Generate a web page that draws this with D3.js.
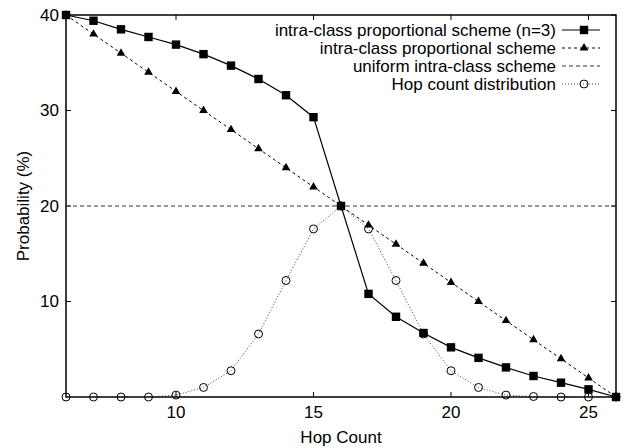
<!DOCTYPE html>
<html lang="en">
<head>
    <meta charset="UTF-8">
    <title>Hop count probability</title>
    <script src="https://d3js.org/d3.v7.min.js"></script>
    <style>
        body { margin: 0; background: #fff; }
        text { font-family: "Liberation Sans", Arial, sans-serif; fill: #000; }
        .tick-label { font-size: 17px; }
        .legend-text { font-size: 17px; }
    </style>
</head>
<body>
    <svg id="chart" width="624" height="448"></svg>
    <script>
        const hops = d3.range(6, 27);
        const n3Scheme = [40, 39.4, 38.5, 37.7, 36.9, 35.9, 34.7, 33.3, 31.6, 29.3, 20,
                          10.8, 8.4, 6.7, 5.2, 4.1, 3.1, 2.2, 1.5, 0.8, 0];
        const propScheme = [40, 38, 36, 34, 32, 30, 28, 26, 24, 22, 20,
                            18, 16, 14, 12, 10, 8, 6, 4, 2, 0];
        const uniformScheme = 20;
        const hopDist = [0, 0, 0, 0, 0.2, 1.0, 2.75, 6.6, 12.2, 17.6, 20,
                         17.6, 12.2, 6.6, 2.75, 1.0, 0.2, 0.05, 0, 0, 0];
        const xTicks = [10, 15, 20, 25];
        const yTicks = [10, 20, 30, 40];
        const legendLabels = [
            "intra-class proportional scheme (n=3)",
            "intra-class proportional scheme",
            "uniform intra-class scheme",
            "Hop count distribution"
        ];

        const margin = { top: 15, right: 8, bottom: 51, left: 66 };
        const width = 624 - margin.left - margin.right;
        const height = 448 - margin.top - margin.bottom;

        const svg = d3.select("#chart");
        const g = svg.append("g")
            .attr("transform", `translate(${margin.left},${margin.top})`);

        const x = d3.scaleLinear().domain([6, 26]).range([0, width]);
        const y = d3.scaleLinear().domain([0, 40]).range([height, 0]);

        // frame
        g.append("rect")
            .attr("width", width)
            .attr("height", height)
            .attr("fill", "none")
            .attr("stroke", "#000")
            .attr("stroke-width", 1.5);

        // inward ticks
        xTicks.forEach(t => {
            g.append("line").attr("x1", x(t)).attr("x2", x(t))
                .attr("y1", height).attr("y2", height - 5).attr("stroke", "#000");
            g.append("line").attr("x1", x(t)).attr("x2", x(t))
                .attr("y1", 0).attr("y2", 5).attr("stroke", "#000");
            g.append("text").attr("class", "tick-label")
                .attr("x", x(t)).attr("y", height + 21)
                .attr("text-anchor", "middle").text(t);
        });
        yTicks.forEach(t => {
            g.append("line").attr("x1", 0).attr("x2", 5)
                .attr("y1", y(t)).attr("y2", y(t)).attr("stroke", "#000");
            g.append("line").attr("x1", width).attr("x2", width - 5)
                .attr("y1", y(t)).attr("y2", y(t)).attr("stroke", "#000");
            g.append("text").attr("class", "tick-label")
                .attr("x", -7).attr("y", y(t)).attr("dy", "0.35em")
                .attr("text-anchor", "end").text(t);
        });

        // axis titles
        g.append("text").attr("class", "tick-label")
            .attr("x", width / 2).attr("y", height + 46)
            .attr("text-anchor", "middle").text("Hop Count");
        g.append("text").attr("class", "tick-label")
            .attr("transform", `translate(-37,${height / 2}) rotate(-90)`)
            .attr("text-anchor", "middle").text("Probability (%)");

        const line = d3.line().x(d => x(d[0])).y(d => y(d[1]));
        const zip = vals => hops.map((h, i) => [h, vals[i]]);

        // uniform
        g.append("path")
            .datum([[6, uniformScheme], [26, uniformScheme]])
            .attr("d", line).attr("fill", "none")
            .attr("stroke", "#333").attr("stroke-width", 1)
            .attr("stroke-dasharray", "4,3");

        // hop count distribution
        g.append("path").datum(zip(hopDist))
            .attr("d", line).attr("fill", "none")
            .attr("stroke", "#444").attr("stroke-width", 1)
            .attr("stroke-dasharray", "1,2");
        g.selectAll(".circ").data(zip(hopDist)).enter().append("circle")
            .attr("cx", d => x(d[0])).attr("cy", d => y(d[1])).attr("r", 4)
            .attr("fill", "none").attr("stroke", "#000").attr("stroke-width", 1);

        // proportional scheme
        g.append("path").datum(zip(propScheme))
            .attr("d", line).attr("fill", "none")
            .attr("stroke", "#000").attr("stroke-width", 1)
            .attr("stroke-dasharray", "3,3");
        const tri = d3.symbol().type(d3.symbolTriangle).size(32);
        g.selectAll(".tri").data(zip(propScheme)).enter().append("path")
            .attr("d", tri)
            .attr("transform", d => `translate(${x(d[0])},${y(d[1])})`)
            .attr("fill", "#000");

        // n=3 scheme
        g.append("path").datum(zip(n3Scheme))
            .attr("d", line).attr("fill", "none")
            .attr("stroke", "#000").attr("stroke-width", 1.2);
        g.selectAll(".sq").data(zip(n3Scheme)).enter().append("rect")
            .attr("x", d => x(d[0]) - 4.2).attr("y", d => y(d[1]) - 4.2)
            .attr("width", 8.4).attr("height", 8.4).attr("fill", "#000");

        // legend
        const legend = svg.append("g");
        const rows = [30, 48, 66, 84];
        const lx1 = 562, lx2 = 600, lm = 584;
        legendLabels.forEach((lab, i) => {
            legend.append("text").attr("class", "legend-text")
                .attr("x", 556).attr("y", rows[i]).attr("dy", "0.35em")
                .attr("text-anchor", "end").text(lab);
        });
        legend.append("line").attr("x1", lx1).attr("x2", lx2)
            .attr("y1", rows[0]).attr("y2", rows[0]).attr("stroke", "#000").attr("stroke-width", 1.2);
        legend.append("rect").attr("x", lm - 4.2).attr("y", rows[0] - 4.2)
            .attr("width", 8.4).attr("height", 8.4).attr("fill", "#000");
        legend.append("line").attr("x1", lx1).attr("x2", lx2)
            .attr("y1", rows[1]).attr("y2", rows[1]).attr("stroke", "#000")
            .attr("stroke-dasharray", "3,3");
        legend.append("path").attr("d", tri)
            .attr("transform", `translate(${lm},${rows[1]})`).attr("fill", "#000");
        legend.append("line").attr("x1", lx1).attr("x2", lx2)
            .attr("y1", rows[2]).attr("y2", rows[2]).attr("stroke", "#333")
            .attr("stroke-dasharray", "4,3");
        legend.append("line").attr("x1", lx1).attr("x2", lx2)
            .attr("y1", rows[3]).attr("y2", rows[3]).attr("stroke", "#444")
            .attr("stroke-dasharray", "1,2");
        legend.append("circle").attr("cx", lm).attr("cy", rows[3]).attr("r", 4)
            .attr("fill", "none").attr("stroke", "#000");
    </script>
</body>
</html>
